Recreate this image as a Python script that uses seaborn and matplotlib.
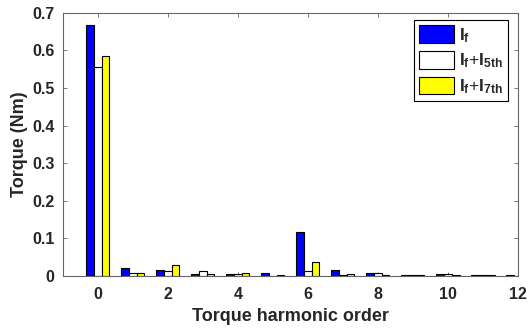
import numpy as np
import pandas as pd
import matplotlib
matplotlib.use("Agg")
import matplotlib.pyplot as plt
import seaborn as sns

# harmonic orders and torque amplitudes (Nm)
orders = list(range(13))
torque_f = [0.668, 0.021, 0.016, 0.006, 0.006, 0.007, 0.118, 0.016, 0.007, 0.002, 0.004, 0.002, 0.002]
torque_f5 = [0.555, 0.007, 0.012, 0.012, 0.006, 0.001, 0.013, 0.002, 0.007, 0.002, 0.004, 0.002, 0.001]
torque_f7 = [0.585, 0.007, 0.030, 0.006, 0.008, 0.002, 0.038, 0.005, 0.003, 0.002, 0.002, 0.002, 0.001]
series_names = ["$I_f$", "$I_f$+$I_{5th}$", "$I_f$+$I_{7th}$"]
series_colors = ["#0000ff", "#ffffff", "#ffff00"]

df = pd.DataFrame({
    "order": orders * 3,
    "torque": torque_f + torque_f5 + torque_f7,
    "series": [s for s in series_names for _ in orders],
})

sns.set_theme(style="ticks")
plt.rcParams["font.family"] = ["Liberation Sans", "DejaVu Sans"]
plt.rcParams["mathtext.fontset"] = "custom"
plt.rcParams["mathtext.rm"] = "Liberation Sans:bold"
plt.rcParams["mathtext.it"] = "Liberation Sans:bold"
plt.rcParams["mathtext.bf"] = "Liberation Sans:bold"

fig = plt.figure(figsize=(5.28, 3.3), dpi=100)
ax = fig.add_axes([0.119, 0.164, 0.862, 0.797])

sns.barplot(data=df, x="order", y="torque", hue="series", order=orders,
            hue_order=series_names, palette=series_colors, width=0.66,
            edgecolor="black", linewidth=0.8, saturation=1, ax=ax)

ax.set_xlim(-1, 12)
ax.set_ylim(0, 0.7)
ax.set_xticks(range(0, 13, 2))
ax.set_xticklabels([str(v) for v in range(0, 13, 2)])
yt = np.round(np.arange(0, 0.71, 0.1), 1)
ax.set_yticks(yt)
ax.set_yticklabels([f"{v:g}" for v in yt])

ax.set_xlabel("Torque harmonic order", fontsize=13, fontweight="bold", labelpad=4)
ax.set_ylabel("Torque (Nm)", fontsize=13, fontweight="bold", labelpad=3)

for s in ax.spines.values():
    s.set_visible(True)
    s.set_color("#666666")
    s.set_linewidth(0.8)
ax.tick_params(direction="in", top=True, right=True, length=3, width=0.6,
               color="#666666", labelsize=11.5, pad=6)
ax.tick_params(axis="x", pad=8)
for lab in ax.get_xticklabels() + ax.get_yticklabels():
    lab.set_fontweight("bold")
    lab.set_color("#262626")

leg = ax.legend(loc="upper right", bbox_to_anchor=(0.985, 0.985), fontsize=12.5,
                frameon=True, fancybox=False, edgecolor="black", framealpha=1,
                handlelength=2.0, handleheight=1.2, handletextpad=0.3,
                labelspacing=0.35, borderpad=0.3, borderaxespad=0.2)
leg.get_frame().set_linewidth(0.8)

fig.savefig("out.png", dpi=100, facecolor="white")
